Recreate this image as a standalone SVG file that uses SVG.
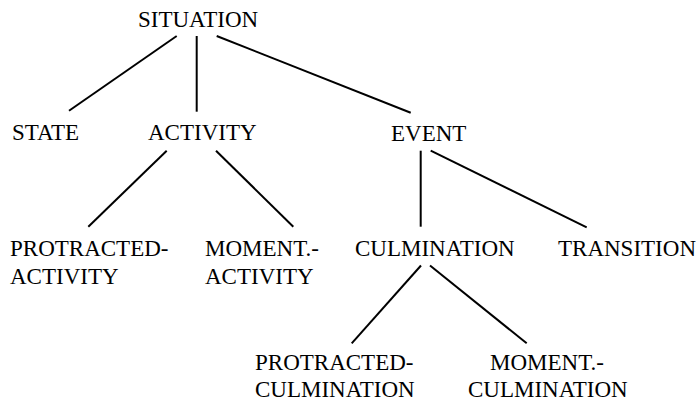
<svg xmlns="http://www.w3.org/2000/svg" width="698" height="404" viewBox="0 0 698 404">
<style>
text{font-family:"Liberation Serif","Times New Roman",serif;font-size:23px;fill:#000}
.c line{stroke:#000;stroke-width:2;stroke-linecap:butt}
</style>
<rect width="698" height="404" fill="#fff"/>
<g class="c" id="connectors">
<line x1="176.7" y1="36" x2="69" y2="110.7"/>
<line x1="196.7" y1="36" x2="196.7" y2="111.7"/>
<line x1="216.7" y1="36" x2="410.7" y2="112.7"/>
<line x1="166.7" y1="150.7" x2="88.3" y2="226.7"/>
<line x1="216" y1="150.7" x2="293.3" y2="226.7"/>
<line x1="420.7" y1="150.7" x2="420.7" y2="226.7"/>
<line x1="430.7" y1="150.7" x2="586.7" y2="227.3"/>
<line x1="421" y1="265.5" x2="351.7" y2="343.3"/>
<line x1="430" y1="265.5" x2="526.7" y2="343.3"/>
</g>
<g id="situation"><text x="138" y="27">SITUATION</text></g>
<g id="state"><text x="12" y="140">STATE</text></g>
<g id="activity"><text x="148" y="140">ACTIVITY</text></g>
<g id="event"><text x="391" y="141">EVENT</text></g>
<g id="protracted-activity"><text x="10" y="256">PROTRACTED-</text><text x="10" y="284">ACTIVITY</text></g>
<g id="moment-activity"><text x="205" y="256">MOMENT.-</text><text x="205" y="284">ACTIVITY</text></g>
<g id="culmination"><text x="355" y="256">CULMINATION</text></g>
<g id="transition"><text x="558" y="256">TRANSITION</text></g>
<g id="protracted-culmination"><text x="255" y="370">PROTRACTED-</text><text x="255" y="397">CULMINATION</text></g>
<g id="moment-culmination"><text x="490" y="370">MOMENT.-</text><text x="468" y="397">CULMINATION</text></g>
</svg>
